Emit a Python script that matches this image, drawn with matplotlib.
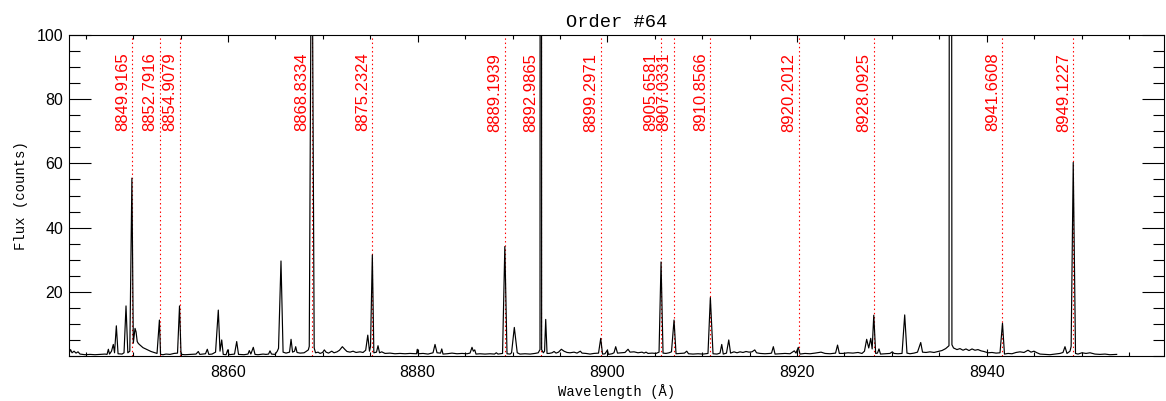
import matplotlib
matplotlib.use("Agg")
import matplotlib.pyplot as plt
from matplotlib.ticker import MultipleLocator, FixedLocator

# ---------------- data ----------------
wave = [8843.30, 8843.40, 8843.56, 8843.77, 8843.98, 8844.19, 8844.40, 8844.93, 8845.46, 8845.98,
        8846.51, 8847.04, 8847.25, 8847.39, 8847.51, 8847.72, 8847.91, 8848.04, 8848.23, 8848.41,
        8848.83, 8849.04, 8849.25, 8849.44, 8849.65, 8849.87, 8850.02, 8850.20, 8850.31, 8850.43,
        8850.55, 8850.73, 8851.04, 8851.47, 8851.89, 8852.20, 8852.52, 8852.77, 8852.89, 8853.15,
        8853.47, 8853.89, 8854.31, 8854.68, 8854.89, 8855.05, 8855.47, 8856.00, 8856.63, 8856.87,
        8857.03, 8857.37, 8857.63, 8857.82, 8857.98, 8858.32, 8858.69, 8858.98, 8859.16, 8859.34,
        8859.50, 8859.80, 8859.97, 8860.11, 8860.69, 8860.92, 8861.11, 8861.69, 8862.11, 8862.25,
        8862.41, 8862.67, 8862.85, 8863.17, 8863.70, 8864.01, 8864.28, 8864.43, 8864.59, 8864.96,
        8865.20, 8865.33, 8865.59, 8865.81, 8866.12, 8866.49, 8866.65, 8866.81, 8867.02, 8867.14,
        8867.28, 8867.60, 8868.02, 8868.23, 8868.47, 8868.57, 8868.83, 8869.09, 8869.23, 8869.50,
        8869.71, 8869.97, 8870.16, 8870.34, 8870.60, 8870.94, 8871.18, 8871.50, 8871.76, 8872.06,
        8872.34, 8872.55, 8872.87, 8873.19, 8873.50, 8873.92, 8874.24, 8874.52, 8874.74, 8874.92,
        8875.03, 8875.22, 8875.38, 8875.66, 8875.82, 8875.98, 8876.21, 8876.56, 8877.09, 8877.61,
        8878.14, 8878.67, 8879.19, 8879.72, 8879.88, 8879.96, 8880.06, 8880.57, 8881.09, 8881.62,
        8881.83, 8882.04, 8882.41, 8882.54, 8882.67, 8883.10, 8883.62, 8884.15, 8884.68, 8885.20,
        8885.52, 8885.73, 8885.87, 8886.02, 8886.15, 8886.57, 8887.10, 8887.63, 8888.10, 8888.29,
        8888.47, 8888.95, 8889.19, 8889.42, 8889.74, 8889.90, 8890.19, 8890.50, 8890.79, 8891.32,
        8891.85, 8892.37, 8892.71, 8892.90, 8892.98, 8893.07, 8893.25, 8893.38, 8893.50, 8893.64,
        8893.85, 8894.17, 8894.38, 8894.59, 8894.85, 8895.15, 8895.43, 8895.75, 8896.06, 8896.49,
        8896.80, 8897.15, 8897.33, 8897.75, 8898.17, 8898.59, 8899.07, 8899.30, 8899.49, 8899.75,
        8900.00, 8900.12, 8900.49, 8900.70, 8900.88, 8901.07, 8901.44, 8901.86, 8902.18, 8902.39,
        8902.81, 8903.23, 8903.65, 8903.87, 8904.08, 8904.29, 8904.71, 8905.13, 8905.45, 8905.66,
        8905.87, 8906.18, 8906.50, 8906.76, 8907.03, 8907.24, 8907.66, 8908.13, 8908.37, 8908.56,
        8909.03, 8909.56, 8910.09, 8910.61, 8910.86, 8911.14, 8911.56, 8911.88, 8912.06, 8912.22,
        8912.56, 8912.80, 8912.99, 8913.35, 8913.67, 8913.99, 8914.30, 8914.62, 8914.94, 8915.25,
        8915.54, 8915.73, 8916.10, 8916.62, 8917.15, 8917.31, 8917.50, 8917.68, 8918.20, 8918.73,
        8919.26, 8919.71, 8919.89, 8920.13, 8920.31, 8920.84, 8921.37, 8921.89, 8922.53, 8922.95,
        8923.48, 8924.06, 8924.27, 8924.46, 8924.85, 8925.37, 8925.90, 8926.43, 8926.85, 8927.11,
        8927.34, 8927.56, 8927.77, 8927.92, 8928.09, 8928.29, 8928.48, 8928.64, 8928.80, 8929.27,
        8929.80, 8930.04, 8930.22, 8930.64, 8931.07, 8931.35, 8931.59, 8931.91, 8932.33, 8932.70,
        8933.04, 8933.23, 8933.60, 8934.02, 8934.44, 8934.86, 8935.28, 8935.67, 8936.02, 8936.18,
        8936.33, 8936.50, 8936.86, 8937.18, 8937.50, 8937.81, 8938.13, 8938.45, 8938.76, 8939.08,
        8939.40, 8939.71, 8940.13, 8940.56, 8940.98, 8941.40, 8941.66, 8941.87, 8942.24, 8942.66,
        8943.09, 8943.51, 8943.93, 8944.35, 8944.67, 8944.98, 8945.30, 8945.62, 8946.14, 8946.67,
        8947.20, 8947.72, 8948.04, 8948.25, 8948.46, 8948.78, 8948.90, 8949.12, 8949.36, 8949.62,
        8950.04, 8950.47, 8950.89, 8951.41, 8951.94, 8952.47, 8952.99, 8953.70]

flux = [1.2, 2.0, 1.0, 1.5, 0.9, 1.3, 0.6, 0.4, 0.5, 0.4,
        0.5, 0.6, 0.5, 2.1, 0.6, 1.5, 3.6, 1.0, 9.4, 0.7,
        0.6, 1.0, 15.6, 1.0, 1.5, 55.4, 4.0, 8.6, 7.5, 4.5,
        3.9, 3.4, 2.6, 2.0, 1.4, 1.1, 0.8, 11.2, 0.5, 0.4,
        0.6, 0.5, 0.8, 0.9, 15.6, 0.5, 0.4, 0.5, 0.6, 1.4,
        0.5, 0.6, 0.7, 2.1, 0.5, 0.6, 1.2, 14.3, 1.5, 5.0,
        0.5, 0.4, 1.9, 0.4, 0.6, 4.5, 0.5, 0.4, 0.6, 1.7,
        0.6, 2.7, 0.5, 0.4, 0.6, 0.5, 0.6, 1.6, 0.6, 0.5,
        1.5, 2.4, 29.6, 1.2, 0.9, 1.2, 5.2, 1.2, 1.5, 2.9,
        1.1, 0.9, 1.0, 1.4, 1.9, 3.0, 160.0, 2.5, 1.0, 1.2,
        0.8, 1.1, 1.9, 1.2, 0.9, 1.5, 1.0, 1.3, 1.8, 2.9,
        2.0, 1.4, 1.2, 1.5, 1.1, 1.3, 1.1, 1.8, 6.5, 1.5,
        3.0, 31.5, 1.0, 1.2, 3.2, 1.0, 1.3, 0.8, 0.9, 0.7,
        0.8, 0.7, 0.8, 0.7, 0.7, 2.1, 0.7, 0.8, 0.6, 1.0,
        3.6, 1.0, 0.9, 2.2, 0.6, 0.7, 0.9, 0.7, 0.8, 0.7,
        0.9, 2.7, 1.5, 1.9, 0.6, 0.7, 0.6, 0.7, 0.6, 1.0,
        0.6, 0.8, 34.1, 0.7, 0.6, 1.0, 8.9, 1.0, 0.6, 0.7,
        0.6, 0.8, 1.0, 2.0, 1000.0, 2.0, 1.0, 1.5, 11.4, 0.8,
        0.8, 1.0, 1.4, 0.9, 1.2, 2.1, 1.5, 1.1, 1.0, 1.2,
        0.9, 1.5, 0.9, 0.8, 0.6, 0.8, 0.9, 5.5, 0.6, 0.7,
        1.8, 0.5, 0.7, 1.0, 2.9, 0.9, 1.0, 1.1, 2.1, 1.2,
        1.3, 1.0, 1.2, 0.9, 1.2, 0.8, 0.9, 0.8, 1.2, 29.3,
        0.9, 0.8, 1.0, 1.3, 11.2, 0.7, 0.8, 0.9, 1.5, 0.7,
        0.6, 0.7, 0.6, 0.8, 18.2, 0.7, 0.6, 0.9, 3.6, 0.6,
        0.9, 5.0, 0.9, 1.3, 1.0, 1.3, 1.1, 1.4, 1.2, 1.3,
        1.9, 1.0, 0.8, 0.7, 0.8, 0.9, 2.9, 0.6, 0.7, 0.8,
        0.7, 1.6, 0.9, 2.7, 0.6, 0.8, 0.7, 0.9, 1.2, 0.8,
        0.7, 0.9, 3.4, 0.8, 0.8, 1.0, 0.9, 1.1, 0.8, 1.5,
        5.2, 2.5, 5.5, 2.2, 12.7, 0.8, 0.9, 2.2, 0.6, 0.7,
        0.8, 1.3, 0.8, 0.7, 0.8, 12.8, 0.9, 0.7, 0.9, 1.2,
        4.2, 1.2, 1.1, 1.3, 1.1, 1.4, 1.7, 2.3, 3.2, 600.0,
        3.5, 2.5, 2.0, 2.3, 1.8, 2.2, 1.7, 2.2, 1.8, 2.0,
        1.6, 1.4, 1.0, 1.1, 0.9, 1.0, 10.2, 0.6, 0.8, 0.7,
        1.1, 1.3, 1.1, 1.8, 1.2, 1.5, 1.0, 0.6, 0.5, 0.4,
        0.6, 0.8, 1.1, 2.9, 0.8, 1.5, 3.0, 60.3, 0.8, 0.6,
        1.0, 0.8, 1.0, 0.6, 0.5, 0.6, 0.4, 0.5]

line_waves = [8849.9165, 8852.7916, 8854.9079, 8868.8334, 8875.2324, 8889.1939,
              8892.9865, 8899.2971, 8905.6581, 8907.0331, 8910.8566, 8920.2012,
              8928.0925, 8941.6608, 8949.1227]
line_labels = ["8849.9165", "8852.7916", "8854.9079", "8868.8334", "8875.2324", "8889.1939",
               "8892.9865", "8899.2971", "8905.6581", "8907.0331", "8910.8566", "8920.2012",
               "8928.0925", "8941.6608", "8949.1227"]

title_text = "Order #64"
xlabel_text = "Wavelength (Å)"
ylabel_text = "Flux (counts)"
x_range = (8843.27, 8958.69)
y_range = (0, 100)
y_major = [20, 40, 60, 80, 100]

# ---------------- figure ----------------
W, H, DPI = 1166, 401, 100
fig = plt.figure(figsize=(W / DPI, H / DPI), dpi=DPI)
ax = fig.add_axes([69.3 / W, (H - 356) / H, (1164 - 69.3) / W, (356 - 35) / H])

ax.plot(wave, flux, color="black", lw=0.85, zorder=3)

for lw_, lab in zip(line_waves, line_labels):
    ax.axvline(lw_, color="red", lw=0.8, linestyle=(0, (1.3, 2.5)), zorder=2)
    ax.annotate(lab, xy=(lw_, 94.5), xytext=(-2.5, 0), textcoords="offset pixels",
                rotation=90, ha="right", va="top", color="red",
                fontsize=12, family="Liberation Sans", zorder=4)

ax.set_xlim(*x_range)
ax.set_ylim(*y_range)

ax.xaxis.set_major_locator(MultipleLocator(20))
ax.xaxis.set_minor_locator(MultipleLocator(5))
ax.yaxis.set_major_locator(FixedLocator(y_major))
ax.yaxis.set_minor_locator(MultipleLocator(5))

ax.tick_params(axis="both", which="both", direction="in", top=True, right=True,
               width=0.8, labelsize=11.5)
ax.tick_params(axis="x", which="major", length=4.8, pad=6.5)
ax.tick_params(axis="x", which="minor", length=2.8)
ax.tick_params(axis="y", which="major", length=15.5, pad=4.3)
ax.tick_params(axis="y", which="minor", length=7.8)
for lbl in ax.get_xticklabels() + ax.get_yticklabels():
    lbl.set_family("Liberation Sans")

for sp in ax.spines.values():
    sp.set_linewidth(0.8)

ax.set_title(title_text, family="Liberation Mono", fontsize=13.5, pad=6)
ax.set_xlabel(xlabel_text, family="Liberation Mono", fontsize=10, labelpad=3)
ax.set_ylabel(ylabel_text, family="Liberation Mono", fontsize=10, labelpad=6)

fig.savefig("out.png", dpi=DPI)
